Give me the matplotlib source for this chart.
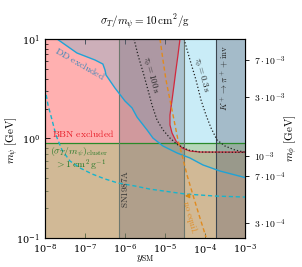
import matplotlib
matplotlib.use('Agg')
import matplotlib.pyplot as plt
import numpy as np

plt.rcParams['mathtext.fontset'] = 'cm'
plt.rcParams['font.family'] = ['DejaVu Serif']

# ---- data (x = y_SM, y = m_psi [GeV]) ----
x_lim = (1e-8, 1e-3)
m_lim = (0.1, 10.0)

# BBN boundary (red)
bbn_x = [2.37e-5, 2.11e-5, 1.88e-5, 1.68e-5, 1.50e-5, 1.33e-5, 1.33e-5, 1.50e-5,
         1.88e-5, 2.66e-5, 4.2e-5, 7.5e-5, 1e-3]
bbn_m = [10.0, 6.9, 4.9, 3.45, 2.44, 1.72, 1.37, 1.135, 0.944, 0.803, 0.748, 0.731, 0.73]

# DD exclusion boundary (blue solid)
dd_x = [2.0e-8, 6.3e-8, 1.78e-7, 2.8e-7, 3.16e-7, 3.35e-7, 5.6e-7, 1e-6, 1.5e-6, 2.0e-6,
        3.55e-6, 5.0e-6, 8.9e-6, 2.0e-5, 4.2e-5, 8.9e-5, 2.37e-4, 1e-3]
dd_m = [10.0, 7.23, 6.15, 5.6, 4.88, 4.35, 3.22, 2.38, 2.03, 1.64,
        1.22, 1.01, 0.84, 0.715, 0.637, 0.542, 0.471, 0.405]

# cyan dashed curve
dash_x = [1e-8, 1.19e-8, 1.5e-8, 1.88e-8, 2.66e-8, 4.2e-8, 7.5e-8, 1.5e-7, 3.16e-7,
          6.7e-7, 1.78e-6, 4.2e-6, 3.16e-5, 1.78e-4, 1e-3]
dash_m = [3.22, 2.17, 1.535, 1.08, 0.766, 0.594, 0.506, 0.44, 0.392,
          0.357, 0.333, 0.31, 0.277, 0.264, 0.258]

# lifetime contours (black dotted)
tau100_x = [1.68e-6, 2.11e-6, 2.82e-6, 3.76e-6, 4.73e-6, 6.31e-6, 8.9e-6, 1.33e-5,
            2.11e-5, 3.76e-5, 7.5e-5, 1e-3]
tau100_m = [10.0, 6.9, 4.66, 3.07, 2.17, 1.535, 1.22, 1.01, 0.86, 0.766, 0.731, 0.725]
tau03_x = [2.99e-5, 4.22e-5, 5.96e-5, 7.94e-5, 1.06e-4, 1.41e-4, 2.0e-4, 3.16e-4, 5.6e-4, 1e-3]
tau03_m = [10.0, 6.15, 3.87, 2.44, 1.72, 1.28, 0.966, 0.84, 0.766, 0.728]

# no-equilibration line (orange dashed)
neq_x = [7.5e-6, 8.9e-6, 1.06e-5, 1.33e-5, 1.68e-5, 2.11e-5, 2.66e-5, 3.55e-5,
         5.0e-5, 7.1e-5, 1.06e-4]
neq_m = [10.0, 6.15, 3.87, 2.44, 1.535, 0.966, 0.683, 0.43, 0.27, 0.17, 0.102]

cluster_m = 0.9
sn_band = (7.1e-7, 3.0e-5)
kaon_band = (1.88e-4, 1e-3)

# right axis: m_phi labels at the corresponding m_psi
mphi_pos = [6.15, 2.61, 0.667, 0.42, 0.1416]
mphi_labels = [r'$7\cdot10^{-3}$', r'$3\cdot10^{-3}$', r'$10^{-3}$',
               r'$7\cdot10^{-4}$', r'$3\cdot10^{-4}$']

fig = plt.figure(figsize=(3.02, 2.67), dpi=100)
ax = fig.add_axes([45/302, 1-238/267, 200/302, 199/267])
ax.set_xscale('log')
ax.set_yscale('log')
ax.set_xlim(*x_lim)
ax.set_ylim(*m_lim)

# BBN excluded (pink)
px = [x_lim[0]] + bbn_x + [x_lim[1], x_lim[0]]
py = [m_lim[1]] + bbn_m + [m_lim[0], m_lim[0]]
ax.fill(px, py, color='#ffb0b0', lw=0, zorder=1)

# DD excluded
ax.fill(dd_x + [x_lim[1], x_lim[0]], dd_m + [m_lim[1], m_lim[1]],
        color='#82afc8', alpha=0.4, lw=0, zorder=2)

# lifetime region (light blue)
ax.fill(bbn_x + [x_lim[1]], bbn_m + [m_lim[1]], color='#c9ecf7', lw=0, zorder=3)

# cluster bound
ax.axhspan(m_lim[0], cluster_m, color='#a5c37d', alpha=0.5, lw=0, zorder=4)
ax.axhline(cluster_m, color='#2a8a2a', lw=0.9, zorder=6)

# SN1987A and kaon bands
ax.axvspan(*sn_band, color='#646473', alpha=0.3, lw=0, zorder=5)
for xv in sn_band:
    ax.axvline(xv, color='#6e786e', lw=0.8, zorder=6)
ax.axvspan(*kaon_band, color='#5a5a6e', alpha=0.33, lw=0, zorder=5)
ax.axvline(kaon_band[0], color='#3c4650', lw=0.8, zorder=6)

# lines
ax.plot(bbn_x, bbn_m, color='#d2283c', lw=0.9, zorder=7)
ax.plot(dd_x, dd_m, color='#1fa3d6', lw=1.0, zorder=7)
ax.plot(dash_x, dash_m, color='#17b4cc', lw=1.0, ls=(0, (3, 2)), zorder=7)
ax.plot(tau100_x, tau100_m, color='#222222', lw=0.9, ls=':', zorder=7)
ax.plot(tau03_x, tau03_m, color='#222222', lw=0.9, ls=':', zorder=7)
ax.plot(neq_x, neq_m, color='#e08a1e', lw=1.0, ls=(0, (3, 2)), zorder=7)
ax.annotate('', xy=(2.66e-5, 0.265), xytext=(4.7e-5, 0.265),
            arrowprops=dict(arrowstyle='-|>', color='#d98a10', lw=1.0,
                            mutation_scale=6), zorder=8)

# labels inside
ax.text(1.5e-8, 1.11, r'$\mathrm{BBN\ excluded}$', color='#e8202a', fontsize=7,
        ha='left', va='center', zorder=9)
ax.text(1.33e-8, 0.73, r'$(\sigma_T/m_\psi)_{\mathrm{cluster}}$', color='#2a7a2a',
        fontsize=7, ha='left', va='center', zorder=9)
ax.text(1.78e-8, 0.54, r'$>1\,\mathrm{cm}^2\,\mathrm{g}^{-1}$', color='#2a7a2a',
        fontsize=7, ha='left', va='center', zorder=9)
ax.text(7.5e-8, 5.75, r'$\mathrm{DD\ excluded}$', color='#3a86b8', fontsize=7,
        ha='center', va='center', rotation=-30, zorder=9)
ax.text(4.2e-6, 4.35, r'$\tau_\phi = 100\,\mathrm{s}$', color='#222222', fontsize=6.5,
        ha='center', va='center', rotation=-75, zorder=9)
ax.text(7.9e-5, 4.35, r'$\tau_\phi = 0.3\,\mathrm{s}$', color='#222222', fontsize=6.5,
        ha='center', va='center', rotation=-75, zorder=9)
ax.text(3.0e-4, 4.06, r'$K^+\to\pi^+ + \mathrm{inv}$', color='#222222', fontsize=6.5,
        ha='center', va='center', rotation=90, zorder=9)
ax.text(1.0e-6, 0.31, r'$\mathrm{SN1987A}$', color='#333333', fontsize=6.5,
        ha='center', va='center', rotation=90, zorder=9)
ax.text(4.2e-5, 0.163, r'$\mathrm{no\ equil.}$', color='#e08a1e', fontsize=6.5,
        ha='center', va='center', rotation=-75, zorder=9)

# ticks
ax.tick_params(which='both', direction='in', top=True, right=False, labelsize=7)
ax.tick_params(which='major', length=3.5, width=0.6)
ax.tick_params(which='minor', length=2, width=0.5)
for s in ax.spines.values():
    s.set_linewidth(0.8)

ax2 = ax.twinx()
ax2.set_yscale('log')
ax2.set_ylim(*m_lim)
ax2.set_yticks(mphi_pos)
ax2.set_yticklabels(mphi_labels)
ax2.minorticks_off()
ax2.tick_params(direction='out', length=3, width=0.6, labelsize=7)

fig.text(145/302, 1-22/267, r'$\sigma_T/m_\psi = 10\,\mathrm{cm}^2/\mathrm{g}$',
         ha='center', va='center', fontsize=8)
fig.text(145/302, 1-258/267, r'$y_{\mathrm{SM}}$', ha='center', va='center', fontsize=8)
fig.text(12/302, 1-140/267, r'$m_\psi\ [\mathrm{GeV}]$', ha='center', va='center',
         fontsize=8, rotation=90)
fig.text(291/302, 1-138/267, r'$m_\phi\ [\mathrm{GeV}]$', ha='center', va='center',
         fontsize=8, rotation=90)

fig.savefig('out.png', dpi=100)
